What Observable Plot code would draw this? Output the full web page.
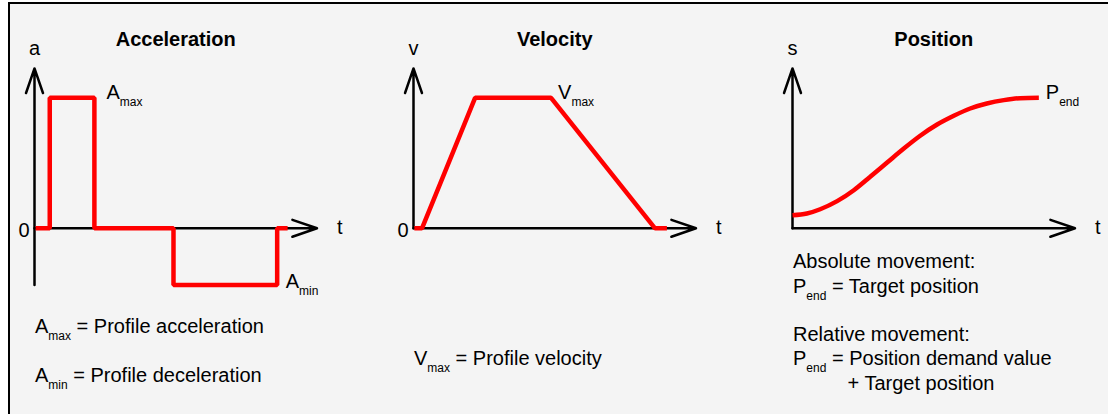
<!DOCTYPE html>
<html>
<head>
<meta charset="utf-8">
<script src="https://cdn.jsdelivr.net/npm/d3@7"></script>
<script src="https://cdn.jsdelivr.net/npm/@observablehq/plot@0.6"></script>
<style>
  html, body { margin: 0; padding: 0; background: #ffffff; }
  #figure { position: relative; width: 1108px; height: 414px; overflow: hidden; background: #ffffff; }
  #frame { position: absolute; left: 8px; top: 2px; right: 0; bottom: 0; background: #f4f4f4;
           border-top: 2px solid #000; border-left: 2px solid #000; }
  .panel { position: absolute; top: 0; }
</style>
</head>
<body>
<div id="figure"><div id="frame"></div></div>
<script>
// ---------------- data ----------------
const panelTitles = ["Acceleration", "Velocity", "Position"];
const axisNames = ["a", "v", "s"];
const timeName = "t";
const originLabel = "0";

// Acceleration profile (time in arbitrary units, value relative to A_max)
const accTime  = [0.04, 0.54, 0.54, 2.12, 2.12, 4.92, 4.92, 8.59, 8.59, 8.96];
const accValue = [0, 0, 1, 1, 0, 0, -0.435, -0.435, 0, 0];

// Velocity profile (value relative to V_max)
const velTime  = [0.03, 0.3, 2.18, 4.87, 8.55, 8.97];
const velValue = [0, 0, 1, 1, 0, 0];

// Position profile (value relative to P_end)
const posTime  = [0, 0.51, 0.98, 1.58, 2.17, 2.75, 3.35, 3.94, 4.52, 5.12, 5.71, 6.29, 6.88, 7.48, 8.06, 8.72];
const posValue = [0.100, 0.113, 0.146, 0.208, 0.292, 0.395, 0.504, 0.611, 0.709, 0.795, 0.862, 0.918, 0.956, 0.982, 0.997, 1.0];

const accLabels = ["A_{max}", "A_{min}"];
const velLabels = ["V_{max}"];
const posLabels = ["P_{end}"];

const accNotes = ["A_{max} = Profile acceleration", "", "A_{min} = Profile deceleration"];
const velNotes = ["V_{max} = Profile velocity"];
const posNotes = ["Absolute movement:", "P_{end} = Target position", "", "Relative movement:",
                  "P_{end} = Position demand value", "+ Target position"];

// ---------------- layout ----------------
const W = 350, H = 414, STEP = 378.75;
const T_MAX = 10;
const Y_DOMAIN = [-1.4, 1.6];
const AXIS_TOP = 1.225;
const FONT = "'Liberation Sans', Arial, Helvetica, sans-serif";
const RED = "#ff0000";
const INK = "#000000";
const FS = 20, SUB_FS = 12, SUB_SHIFT = 7;
const LINE_STEP = 0.1855;

const series = [
  d3.zip(accTime, accValue).map(([t, v]) => ({t, v})),
  d3.zip(velTime, velValue).map(([t, v]) => ({t, v})),
  d3.zip(posTime, posValue).map(([t, v]) => ({t, v}))
];
// which profile point each curve label is attached to, and its offsets
const labelSpecs = [
  [{text: accLabels[0], idx: 3, dx: 12, dy: 1.5}, {text: accLabels[1], idx: 7, dx: 8.5, dy: 2.5}],
  [{text: velLabels[0], idx: 3, dx: 7, dy: 1.5}],
  [{text: posLabels[0], idx: posTime.length - 1, dx: 7, dy: 1.5}]
];
const notes = [accNotes, velNotes, posNotes];
const noteTop = [-0.806, -1.05, -0.308];

function textMark(d, opts) {
  return Plot.text([d], {
    x: "t", y: "v", text: "text",
    fontFamily: FONT, fontSize: FS, fill: INK,
    lineAnchor: "bottom", textAnchor: "start",
    ...opts
  });
}

function applySubscripts(svg) {
  d3.select(svg).selectAll("text").each(function () {
    const s = this.textContent;
    if (!s.includes("_{")) return;
    const parts = s.split(/(_\{[^}]*\})/).filter(p => p !== "");
    this.textContent = "";
    let shifted = false;
    for (const p of parts) {
      const ts = d3.select(this).append("tspan");
      const m = p.match(/^_\{([^}]*)\}$/);
      if (m) {
        ts.text(m[1]).attr("font-size", SUB_FS).attr("dy", SUB_SHIFT);
        shifted = true;
      } else {
        ts.text(p);
        if (shifted) { ts.attr("dy", -SUB_SHIFT); shifted = false; }
      }
    }
  });
}

function makePanel(i) {
  const pts = series[i];
  const yLow = Math.min(0, d3.min(pts, d => d.v));
  const axisStyle = {x1: "x1", y1: "y1", x2: "x2", y2: "y2", stroke: INK, strokeWidth: 2.5,
                     headLength: 15.6, headAngle: 38};
  const marks = [
    Plot.arrow([{x1: 0, y1: yLow, x2: 0, y2: AXIS_TOP}], axisStyle),
    Plot.arrow([{x1: 0, y1: 0, x2: T_MAX, y2: 0}], axisStyle),
    Plot.line(pts, {x: "t", y: "v", stroke: RED, strokeWidth: 4.5,
                    strokeLinejoin: "miter", strokeLinecap: "butt",
                    curve: i === 2 ? "monotone-x" : "linear"}),
    textMark({t: T_MAX / 2, v: 1.40, text: panelTitles[i]}, {fontWeight: "bold", textAnchor: "middle"}),
    textMark({t: 0, v: AXIS_TOP, text: axisNames[i]}, {textAnchor: "middle", dy: -13}),
    textMark({t: T_MAX, v: 0, text: timeName}, {dx: 20, dy: 5.5})
  ];
  if (i < 2) marks.push(textMark({t: 0, v: 0, text: originLabel}, {textAnchor: "end", dx: -5, dy: 9}));
  for (const s of labelSpecs[i]) {
    const p = pts[s.idx];
    marks.push(textMark({t: p.t, v: p.v, text: s.text}, {dx: s.dx, dy: s.dy}));
  }
  notes[i].forEach((line, k) => {
    if (!line) return;
    const indent = line.startsWith("+") ? 55 : 0.5;
    marks.push(textMark({t: 0, v: noteTop[i] - k * LINE_STEP, text: line}, {dx: indent}));
  });

  const svg = Plot.plot({
    width: W, height: H,
    marginLeft: 34, marginRight: 33.5, marginTop: 19, marginBottom: 3.5,
    x: {domain: [0, T_MAX], axis: null},
    y: {domain: Y_DOMAIN, axis: null},
    style: {background: "transparent", overflow: "visible"},
    marks
  });
  applySubscripts(svg);
  svg.classList.add("panel");
  svg.style.left = (i * STEP) + "px";
  svg.style.position = "absolute";
  svg.style.top = "0px";
  return svg;
}

const fig = document.getElementById("figure");
panelTitles.forEach((_, i) => fig.appendChild(makePanel(i)));
</script>
</body>
</html>
